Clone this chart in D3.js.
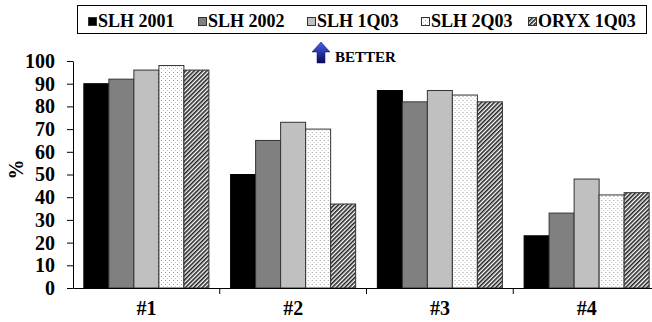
<!DOCTYPE html>
<html>
<head>
<meta charset="utf-8">
<script src="https://cdn.jsdelivr.net/npm/d3@7"></script>
<style>
  body { margin: 0; background: #fff; }
  svg text { font-family: "Liberation Serif", "Times New Roman", serif; font-weight: bold; }
</style>
</head>
<body>
<div id="chart"></div>
<script>
const categories = ['#1', '#2', '#3', '#4'];
const series = ['SLH 2001', 'SLH 2002', 'SLH 1Q03', 'SLH 2Q03', 'ORYX 1Q03'];
const slh2001 = [90, 50, 87, 23];
const slh2002 = [92, 65, 82, 33];
const slh1q03 = [96, 73, 87, 48];
const slh2q03 = [98, 70, 85, 41];
const oryx1q03 = [96, 37, 82, 42];
const yTicks = [0, 10, 20, 30, 40, 50, 60, 70, 80, 90, 100];

const values = [slh2001, slh2002, slh1q03, slh2q03, oryx1q03];
const fills = ['#000000', '#808080', '#c0c0c0', 'url(#dots)', 'url(#hatch)'];

const width = 652, height = 322;
const svg = d3.select('#chart').append('svg')
  .attr('width', width)
  .attr('height', height);

// patterns
const defs = svg.append('defs');
const dots = defs.append('pattern')
  .attr('id', 'dots')
  .attr('patternUnits', 'userSpaceOnUse')
  .attr('width', 4).attr('height', 4);
dots.append('rect').attr('width', 4).attr('height', 4).attr('fill', '#fff');
dots.append('rect').attr('x', 0).attr('y', 0).attr('width', 1).attr('height', 1).attr('fill', '#9a9a9a');
dots.append('rect').attr('x', 2).attr('y', 2).attr('width', 1).attr('height', 1).attr('fill', '#c8c8c8');

const hatch = defs.append('pattern')
  .attr('id', 'hatch')
  .attr('patternUnits', 'userSpaceOnUse')
  .attr('width', 3).attr('height', 3)
  .attr('patternTransform', 'rotate(45)');
hatch.append('rect').attr('width', 3).attr('height', 3).attr('fill', '#fff');
hatch.append('rect').attr('width', 1.6).attr('height', 3).attr('fill', '#222');

const grad = defs.append('linearGradient')
  .attr('id', 'arrowGrad')
  .attr('x1', 0).attr('y1', 0).attr('x2', 0).attr('y2', 1);
grad.append('stop').attr('offset', '0%').attr('stop-color', '#4462ee');
grad.append('stop').attr('offset', '100%').attr('stop-color', '#0a0a5a');

// scales
const x0 = d3.scaleBand()
  .domain(categories)
  .range([73, 660]);

const x1 = d3.scaleBand()
  .domain(series)
  .range([0, x0.bandwidth()])
  .paddingOuter(0.434);

const y = d3.scaleLinear()
  .domain([0, 100])
  .range([288, 61]);

// bars
const groups = svg.append('g')
  .selectAll('g')
  .data(categories)
  .join('g')
  .attr('transform', d => `translate(${x0(d)},0)`);

groups.selectAll('rect')
  .data((c, ci) => series.map((s, si) => ({ s, si, v: values[si][ci] })))
  .join('rect')
  .attr('x', d => x1(d.s))
  .attr('y', d => y(d.v))
  .attr('width', x1.bandwidth())
  .attr('height', d => y(0) - y(d.v))
  .attr('fill', d => fills[d.si])
  .attr('stroke', d => d.si === 0 ? '#000' : '#333')
  .attr('stroke-width', 1);

// y axis
const yAxis = svg.append('g')
  .attr('transform', 'translate(73,0)')
  .call(d3.axisLeft(y).tickValues(yTicks).tickSize(6).tickPadding(12).tickSizeOuter(0));
yAxis.select('.domain').attr('stroke', '#000');
yAxis.selectAll('.tick line').attr('stroke', '#000');
yAxis.selectAll('.tick text')
  .attr('font-size', 20)
  .attr('fill', '#000')
  .attr('font-family', '"Liberation Serif", serif');

// x axis
const xAxis = svg.append('g')
  .attr('transform', `translate(0,${y(0)})`)
  .call(d3.axisBottom(x0).tickSize(0).tickPadding(13).tickSizeOuter(0));
xAxis.select('.domain').attr('stroke', '#000');
xAxis.selectAll('.tick text')
  .attr('font-size', 20)
  .attr('fill', '#000')
  .attr('font-family', '"Liberation Serif", serif');

// category separators
svg.append('g')
  .selectAll('line')
  .data(categories.slice(1))
  .join('line')
  .attr('x1', d => x0(d)).attr('x2', d => x0(d))
  .attr('y1', y(0)).attr('y2', y(0) + 6)
  .attr('stroke', '#000');

// y label
svg.append('text')
  .attr('transform', `translate(23,${y(50) - 5}) rotate(-90)`)
  .attr('text-anchor', 'middle')
  .attr('font-size', 20)
  .text('%');

// BETTER annotation
svg.append('path')
  .attr('d', 'M321,42 L330,52 L325,52 L325,63 L317,63 L317,52 L312,52 Z')
  .attr('fill', 'url(#arrowGrad)')
  .attr('stroke', '#0a0a5a')
  .attr('stroke-width', 0.5);
svg.append('text')
  .attr('x', 335)
  .attr('y', 62)
  .attr('font-size', 15)
  .text('BETTER');

// legend
svg.append('rect')
  .attr('x', 77.5).attr('y', 5.5)
  .attr('width', 569).attr('height', 28)
  .attr('fill', '#fff')
  .attr('stroke', '#000');

const legendX = [88, 198, 307, 421, 528];
const legend = svg.append('g')
  .selectAll('g')
  .data(series)
  .join('g')
  .attr('transform', (d, i) => `translate(${legendX[i]},0)`);
legend.append('rect')
  .attr('x', 0.5).attr('y', 17.5)
  .attr('width', 8).attr('height', 8)
  .attr('fill', (d, i) => fills[i])
  .attr('stroke', '#333');
legend.append('text')
  .attr('x', 10)
  .attr('y', 27)
  .attr('font-size', 18)
  .text(d => d);
</script>
</body>
</html>
